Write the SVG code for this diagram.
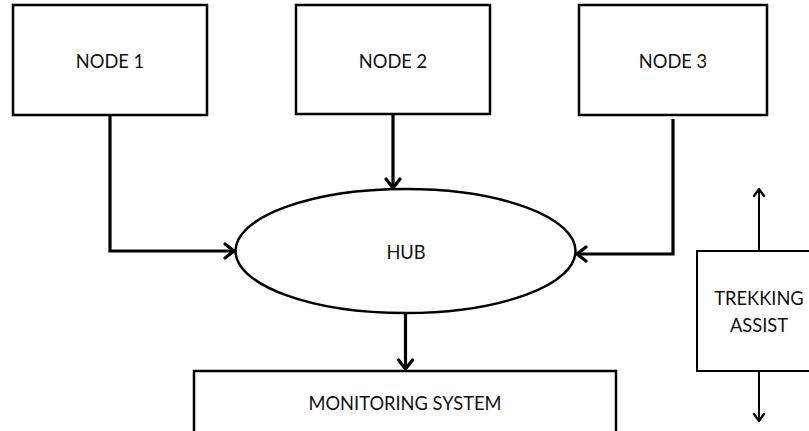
<svg xmlns="http://www.w3.org/2000/svg" width="809" height="431" viewBox="0 0 809 431">
<defs>
<style>
.box{fill:#fff;stroke:#000;stroke-width:2.5}
.thin{fill:#fff;stroke:#000;stroke-width:2}
.lbl{font-family:Lato,"Open Sans","Liberation Sans",sans-serif;font-size:18.3px;fill:#111;text-anchor:middle;dominant-baseline:central}
.con{fill:none;stroke:#000;stroke-width:3.2}
.con2{fill:none;stroke:#000;stroke-width:2}
</style>
<marker id="ah" markerUnits="userSpaceOnUse" markerWidth="20" markerHeight="20" viewBox="-12 -10 14 20" refX="0" refY="0" orient="auto">
<path d="M-9,-7 L0,0 L-9,7" fill="none" stroke="#000" stroke-width="3.2" stroke-linecap="round" stroke-linejoin="round"/>
</marker>
<marker id="ah2" markerUnits="userSpaceOnUse" markerWidth="20" markerHeight="20" viewBox="-12 -10 14 20" refX="0" refY="0" orient="auto">
<path d="M-7,-5 L0,0 L-7,5" fill="none" stroke="#000" stroke-width="2.2" stroke-linecap="round" stroke-linejoin="round"/>
</marker>
</defs>
<rect width="809" height="431" fill="#fff"/>
<g id="node1"><rect class="box" x="13" y="5" width="194" height="110"/><text class="lbl" x="110" y="61">NODE 1</text></g>
<g id="node2"><rect class="box" x="296" y="5" width="194" height="109"/><text class="lbl" x="393" y="61">NODE 2</text></g>
<g id="node3"><rect class="box" x="579" y="5" width="188" height="110"/><text class="lbl" x="673" y="61">NODE 3</text></g>
<g id="hub"><ellipse class="box" cx="405.5" cy="251" rx="170" ry="62"/><text class="lbl" x="406" y="252">HUB</text></g>
<g id="monitoring"><rect class="box" x="194" y="371" width="422" height="80"/><text class="lbl" x="405" y="403">MONITORING SYSTEM</text></g>
<g id="trekking"><rect class="thin" x="697" y="251" width="130" height="120"/><text class="lbl" x="759" y="298">TREKKING</text><text class="lbl" x="759" y="325">ASSIST</text></g>
<g id="connectors">
<polyline class="con" points="110,115 110,251 234,251" marker-end="url(#ah)"/>
<line class="con" x1="393" y1="114" x2="393" y2="188" marker-end="url(#ah)"/>
<polyline class="con" points="673,119 673,254 577,254" marker-end="url(#ah)"/>
<line class="con" x1="405.5" y1="313" x2="405.5" y2="369" marker-end="url(#ah)"/>
<line class="con2" x1="759" y1="251" x2="759" y2="189" marker-end="url(#ah2)"/>
<line class="con2" x1="759" y1="371" x2="759" y2="421" marker-end="url(#ah2)"/>
</g>
</svg>
